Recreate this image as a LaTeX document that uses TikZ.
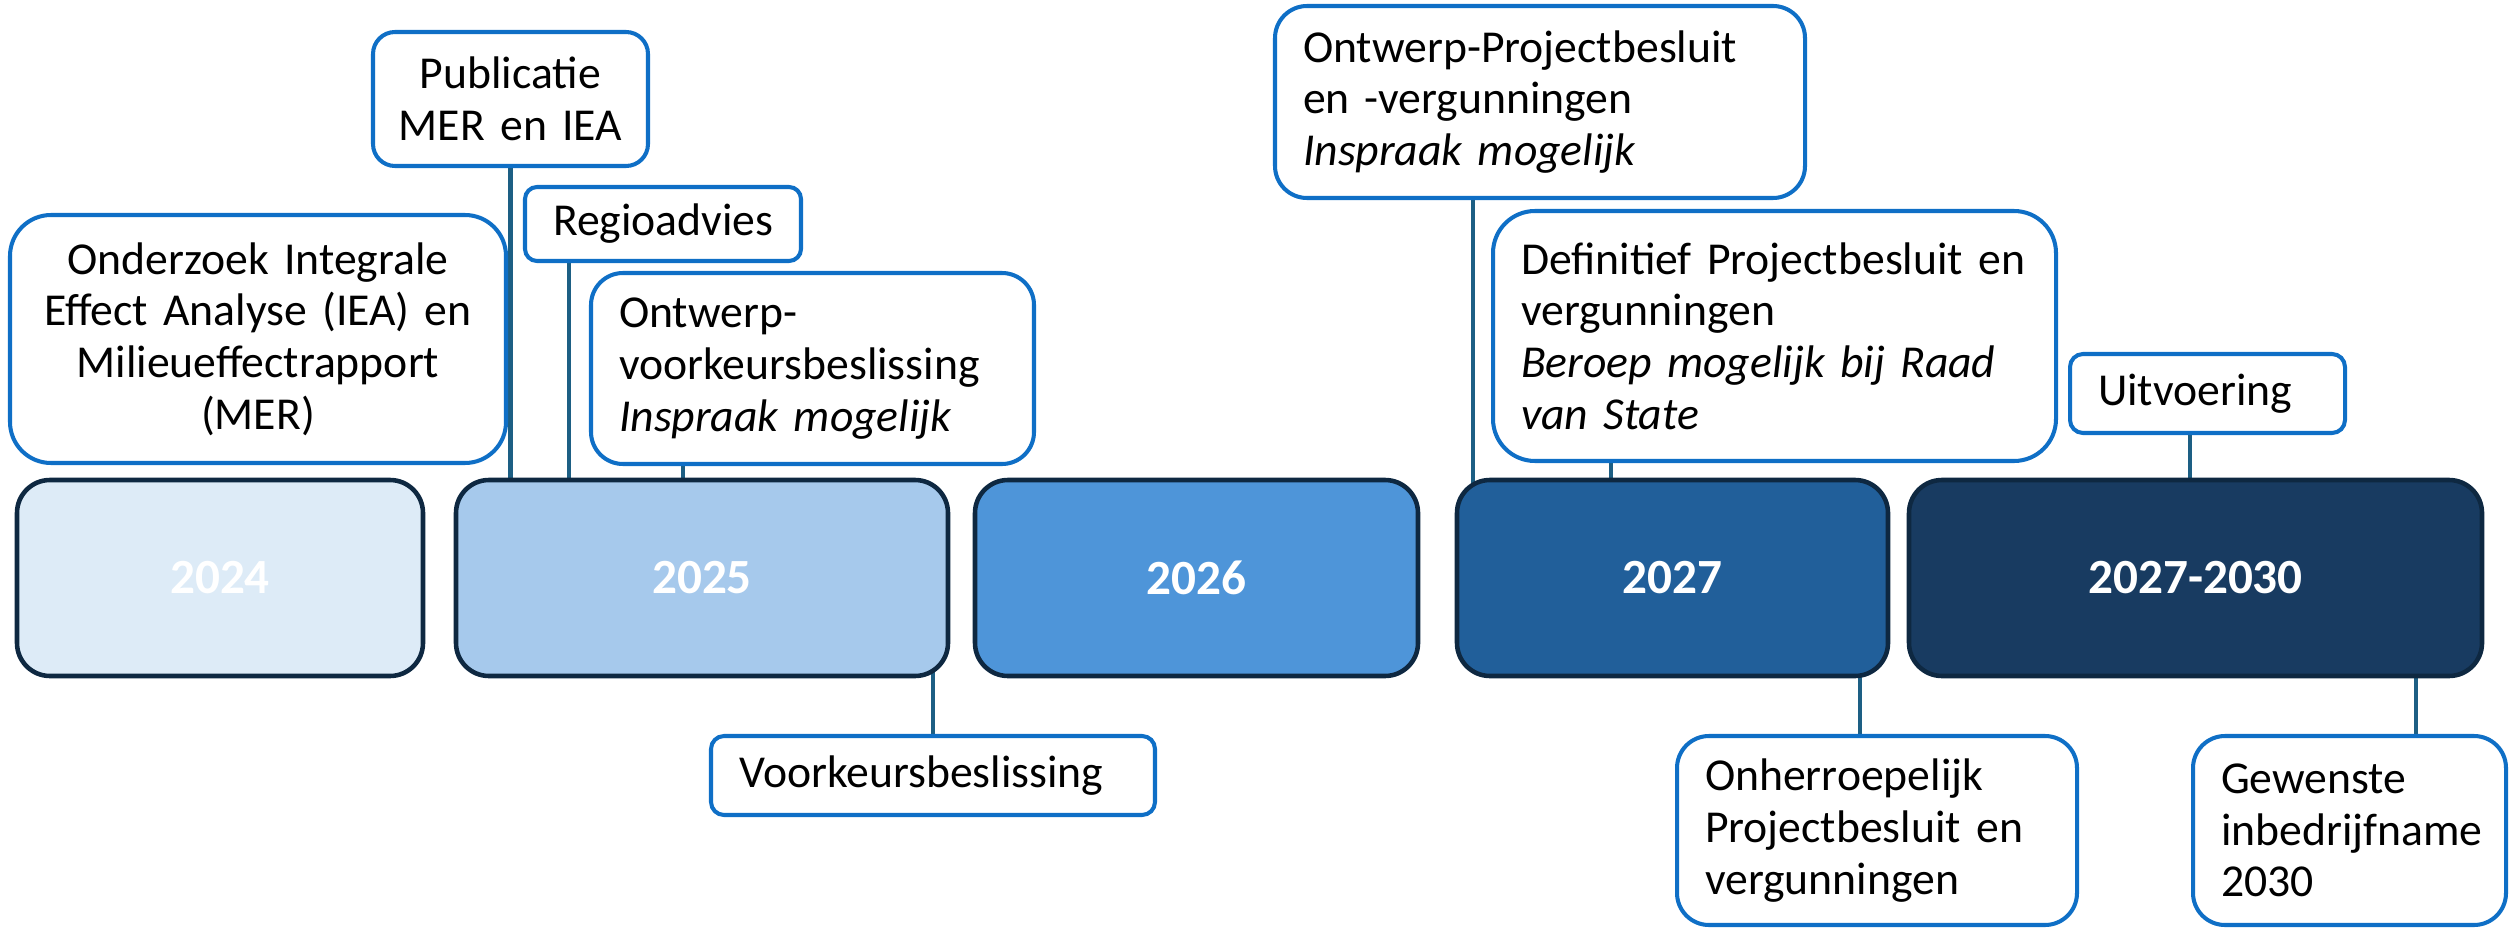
\documentclass[tikz,border=0pt]{standalone}
\usepackage{fontspec}
\setmainfont{Carlito}[WordSpace=0.7]
\usepackage{tikz}
\usetikzlibrary{calc}
\usetikzlibrary{positioning}
\usetikzlibrary{backgrounds}

\definecolor{yr24}{HTML}{DDEBF7}
\definecolor{yr25}{HTML}{A6C9EC}
\definecolor{yr26}{HTML}{4E95D9}
\definecolor{yr27}{HTML}{215F9A}
\definecolor{yr30}{HTML}{183B61}
\definecolor{yrline}{HTML}{0E2841}
\definecolor{noteline}{HTML}{0F6FC6}
\definecolor{linkcol}{HTML}{1D5F84}

\tikzset{>=latex}
\tikzstyle{yearbox} = [rectangle, draw=yrline, line width=1.3pt, rounded corners=3.3mm, minimum height=19.6mm, text=white, font=\fontsize{14}{16}\selectfont\bfseries]
\tikzstyle{notebox} = [rectangle, draw=noteline, line width=1.15pt, fill=white, inner xsep=2.8mm, inner ysep=0pt, font=\fontsize{13}{14.7}\selectfont, align=left]
\tikzstyle{linkline} = [-, draw=linkcol, line width=1.4pt]

\begin{document}
\begin{tikzpicture}[x=0.1mm, y=-0.1mm]
\useasboundingbox (0,0) rectangle (2509,929);
% years
\node [yearbox, fill=yr24, minimum width=40.6mm] (y2024) at (220, 578) {2024};
\node [yearbox, fill=yr25, minimum width=49.2mm] (y2025) at (702, 578) {2025};
\node [yearbox, fill=yr26, minimum width=44.3mm] (y2026) at (1196.5, 578) {2026};
\node [yearbox, fill=yr27, minimum width=43.1mm] (y2027) at (1672.5, 578) {2027};
\node [yearbox, fill=yr30, minimum width=57.3mm] (y2030) at (2195.5, 578) {2027-2030};

% milestones
\node [notebox, align=center, inner xsep=1mm, text width=47.6mm, minimum height=24.8mm, rounded corners=4.1mm] (onderzoek) at (258, 339) {Onderzoek Integrale\\Effect Analyse (IEA) en\\Milieueffectrapport\\(MER)};
\node [notebox, align=center, inner xsep=1mm, text width=25.5mm, minimum height=13.4mm, rounded corners=2.2mm] (publicatie) at (510.5, 99) {Publicatie\\MER en IEA};
\node [notebox, text width=22mm, minimum height=7.4mm, rounded corners=1.2mm] (regio) at (663, 224) {Regioadvies};
\node [notebox, text width=38.7mm, minimum height=19.1mm, rounded corners=3.2mm] (ovkb) at (812.5, 368.5) {Ontwerp-\\voorkeursbeslissing\\\textit{Inspraak mogelijk}};
\node [notebox, text width=38.8mm, minimum height=7.9mm, rounded corners=1.3mm] (vkb) at (933, 775.5) {Voorkeursbeslissing};
\node [notebox, text width=47.4mm, minimum height=19.2mm, rounded corners=3.2mm] (opb) at (1540, 102) {Ontwerp-Projectbesluit\\en -vergunningen\\\textit{Inspraak mogelijk}};
\node [notebox, text width=50.7mm, minimum height=25mm, rounded corners=4.2mm] (defpb) at (1774.5, 336) {Definitief Projectbesluit en\\vergunningen\\\textit{Beroep mogelijk bij Raad}\\\textit{van State}};
\node [notebox, text width=21.9mm, minimum height=7.9mm, rounded corners=1.3mm] (uitv) at (2207.5, 393.5) {Uitvoering};
\node [notebox, text width=34.4mm, minimum height=18.9mm, rounded corners=3.2mm] (onherr) at (1877, 830.5) {Onherroepelijk\\Projectbesluit en\\vergunningen};
\node [notebox, text width=25.7mm, minimum height=18.9mm, rounded corners=3.2mm] (gewenst) at (2349.5, 830.5) {Gewenste\\inbedrijfname\\2030};

\coordinate (rgx) at ([xshift=4.6mm]regio.south west);
\coordinate (ovx) at ([xshift=9.4mm]ovkb.south west);
\coordinate (opx) at ([xshift=20mm]opb.south west);
\coordinate (dfx) at ([xshift=12mm]defpb.south west);
\coordinate (uix) at ([xshift=12.2mm]uitv.south west);
\coordinate (onx) at ([xshift=18.5mm]onherr.north west);
\coordinate (gwx) at ([xshift=22.5mm]gewenst.north west);

\begin{scope}[on background layer]
\draw [linkline] (publicatie.south) -- (publicatie.south |- y2025.center);
\draw [linkline] (rgx) -- (rgx |- y2025.center);
\draw [linkline] (ovx) -- (ovx |- y2025.center);
\draw [linkline] (vkb.north) -- (vkb.north |- y2025.center);
\draw [linkline] (opx) -- (opx |- y2027.center);
\draw [linkline] (dfx) -- (dfx |- y2027.center);
\draw [linkline] (onx) -- (onx |- y2027.center);
\draw [linkline] (uix) -- (uix |- y2030.center);
\draw [linkline] (gwx) -- (gwx |- y2030.center);
\end{scope}
\end{tikzpicture}
\end{document}
